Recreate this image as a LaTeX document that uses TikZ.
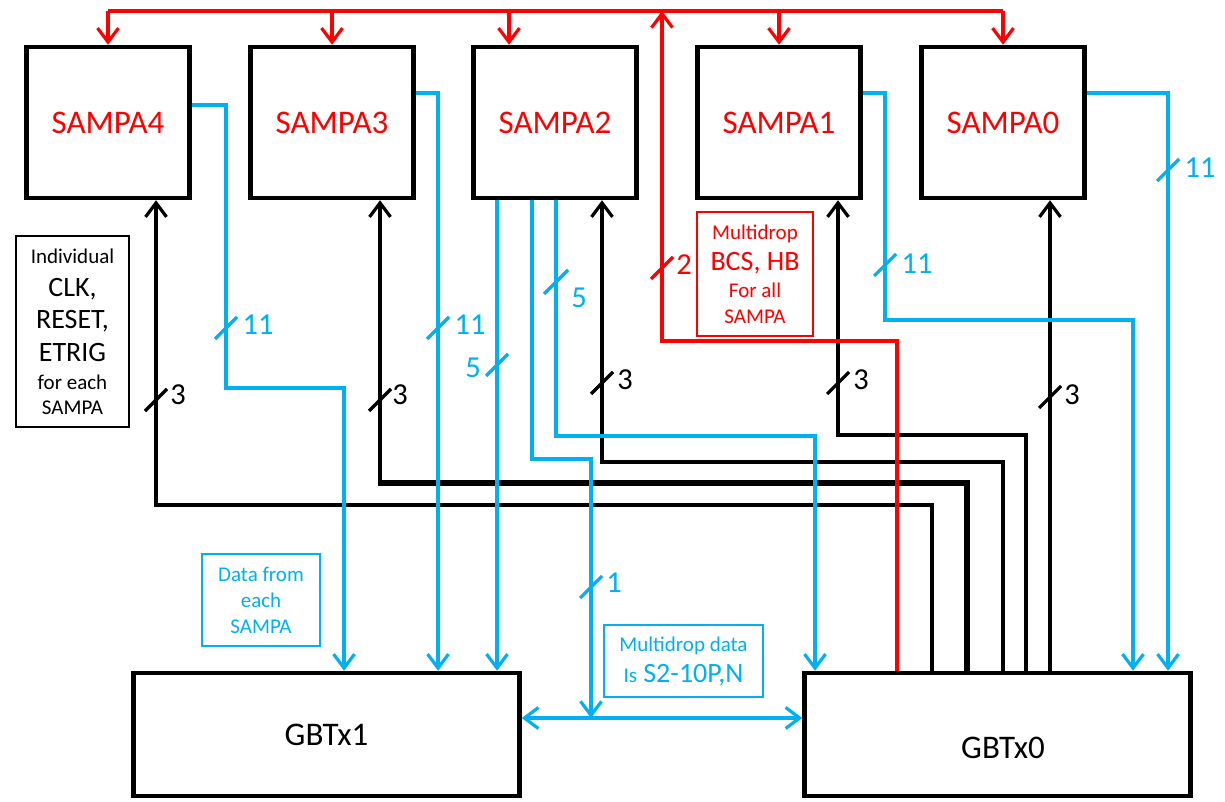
\documentclass[tikz,border=0pt]{standalone}
\usepackage{fontspec}
\setmainfont{Carlito}
\usetikzlibrary{arrows.meta}
\definecolor{sblue}{HTML}{00B0F0}
\definecolor{sred}{HTML}{FF0000}
\begin{document}
\begin{tikzpicture}[x=1pt,y=-1pt,
  sampa/.style={draw, line width=4.5pt, minimum width=163pt, minimum height=151pt, inner sep=0pt, text=sred, font=\fontsize{33}{36}\selectfont},
  gbt/.style={draw, line width=4.5pt, minimum width=386pt, minimum height=123pt, inner sep=0pt, font=\fontsize{33}{36}\selectfont},
  note/.style={draw, line width=1.3pt, inner sep=0pt, align=center},
  bl/.style={sblue, line width=3.2pt},
  kl/.style={black, line width=3.2pt},
  rl/.style={sred, line width=3.2pt},
  arr/.style={-{Straight Barb[length=14pt,width=21pt]}},
  dblarr/.style={{Straight Barb[length=14pt,width=21pt]}-{Straight Barb[length=14pt,width=21pt]}},
  dig/.style={font=\fontsize{30.5}{32}\selectfont, inner sep=0pt},
]
\useasboundingbox (0,0) rectangle (1225,802);

% boxes
\node[sampa] (s4) at (108,122.5) {SAMPA4};
\node[sampa] (s3) at (332,122.5) {SAMPA3};
\node[sampa] (s2) at (555,122.5) {SAMPA2};
\node[sampa] (s1) at (779,122.5) {SAMPA1};
\node[sampa] (s0) at (1003,122.5) {SAMPA0};
\node[gbt] (g1) at (326.5,734.5) {GBTx1};
\node[gbt, label={[font=\fontsize{33}{36}\selectfont, xshift=5.5pt, yshift=-13pt]center:GBTx0}] (g0) at (997.5,734.5) {};

% notes
\node[note, minimum width=113pt, minimum height=191pt, font=\fontsize{28}{33}\selectfont] (leg) at (72.5,331.5)
  {{\fontsize{21}{24}\selectfont Individual}\\CLK,\\[-1pt]RESET,\\ETRIG\\[-5pt]{\fontsize{21}{24}\selectfont for each}\\[-8pt]{\fontsize{21}{24}\selectfont SAMPA}};
\node[note, draw=sred, text=sred, minimum width=116pt, minimum height=124pt, font=\fontsize{28}{28}\selectfont] (rnote) at (755,274)
  {{\fontsize{21}{24}\selectfont Multidrop}\\[3pt]BCS, HB\\[-1pt]{\fontsize{21}{24}\selectfont For all}\\[-2pt]{\fontsize{21}{24}\selectfont SAMPA}};
\node[note, draw=sblue, text=sblue, minimum width=118pt, minimum height=92pt, font=\fontsize{21}{26}\selectfont] (dnote) at (261,600)
  {Data from\\each\\SAMPA};
\node[note, draw=sblue, text=sblue, minimum width=159pt, minimum height=72pt, font=\fontsize{28}{31}\selectfont] (mnote) at (683.5,661)
  {{\fontsize{21}{24}\selectfont Multidrop data}\\{\fontsize{21}{24}\selectfont Is} S2-10P,N};

% coordinates
\coordinate (k4a) at (156,505); \coordinate (k4b) at (932,505);
\coordinate (k3a) at (380,483); \coordinate (k3b) at (967,483);
\coordinate (k2a) at (602,462); \coordinate (k2b) at (1003,462);
\coordinate (k1a) at (838,435); \coordinate (k1b) at (1026,435);
\coordinate (k0a) at (1050,300);

\coordinate (b4a) at (226,105); \coordinate (b4b) at (226,388); \coordinate (b4c) at (344,388);
\coordinate (b3a) at (438,93);
\coordinate (b2a) at (497,300);
\coordinate (b2b) at (532,459); \coordinate (b2c) at (591,459); \coordinate (b2d) at (591,718);
\coordinate (b2e) at (556,436); \coordinate (b2f) at (815,436);
\coordinate (b1a) at (885,93); \coordinate (b1b) at (885,320); \coordinate (b1c) at (1133,320);
\coordinate (b0a) at (1168,93);

\coordinate (rtl) at (108,11); \coordinate (rtr) at (1003,11);
\coordinate (rt3) at (332,11); \coordinate (rt2) at (509,11); \coordinate (rt1) at (779,11);
\coordinate (rin) at (662,11); \coordinate (rb1) at (662,341); \coordinate (rb2) at (897,341);

% black control lines
\draw[kl,arr] (k4b |- g0.north) -- (k4b) -- (k4a) -- (k4a |- s4.south);
\draw[kl,arr] (k3a) -- (k3a |- s3.south);
\draw[black, line width=5.5pt] (k3b |- g0.north) -- (k3b) -- ([xshift=-1.6pt]k3a);
\draw[kl,arr] (k2b |- g0.north) -- (k2b) -- (k2a) -- (k2a |- s2.south);
\draw[kl,arr] (k1b |- g0.north) -- (k1b) -- (k1a) -- (k1a |- s1.south);
\draw[kl,arr] (k0a |- g0.north) -- (k0a |- s0.south);

% blue data lines
\draw[bl,arr] (b4a -| s4.east) -- (b4a) -- (b4b) -- (b4c) -- (b4c |- g1.north);
\draw[bl,arr] (b3a -| s3.east) -- (b3a) -- (b3a |- g1.north);
\draw[bl,arr] (b2a |- s2.south) -- (b2a |- g1.north);
\draw[bl,arr] (b2b |- s2.south) -- (b2b) -- (b2c) -- (b2d);
\draw[bl,arr] (b2e |- s2.south) -- (b2e) -- (b2f) -- (b2f |- g0.north);
\draw[bl,arr] (b1a -| s1.east) -- (b1a) -- (b1b) -- (b1c) -- (b1c |- g0.north);
\draw[bl,arr] (b0a -| s0.east) -- (b0a) -- (b0a |- g0.north);
\draw[bl,dblarr] (g1.east |- b2d) -- (g0.west |- b2d);

% red lines
\draw[rl] (rtl) -- (rtr);
\draw[rl,arr] (rtl) -- (s4.north);
\draw[rl,arr] (rt3) -- (s3.north);
\draw[rl,arr] (rt2) -- (rt2 |- s2.north);
\draw[rl,arr] (rt1) -- (s1.north);
\draw[rl,arr] (rtr) -- (s0.north);
\draw[rl,arr] (rb2 |- g0.north) -- (rb2) -- (rb1) -- (rin);

% bus slashes and widths
\draw[bl] (226,328) +(-11,11) -- +(11,-11); \node[dig, text=sblue] (n1) at (258,325) {11};
\draw[bl] (438,328) +(-11,11) -- +(11,-11); \node[dig, text=sblue] (n2) at (470,325) {11};
\draw[kl] (156,400) +(-11,11) -- +(11,-11); \node[dig] (n3) at (178,395) {3};
\draw[kl] (380,400) +(-11,11) -- +(11,-11); \node[dig] (n4) at (400,395) {3};
\draw[bl] (556,282) +(-12,12) -- +(12,-12); \node[dig, text=sblue] (n5) at (579,298) {5};
\draw[bl] (497,365) +(-11,11) -- +(11,-11); \node[dig, text=sblue] (n6) at (473,368) {5};
\draw[kl] (602,383) +(-11,11) -- +(11,-11); \node[dig] (n7) at (625,380) {3};
\draw[rl] (662,268) +(-11,11) -- +(11,-11); \node[dig, text=sred] (n8) at (684,265) {2};
\draw[bl] (885,265) +(-11,11) -- +(11,-11); \node[dig, text=sblue] (n9) at (917,264) {11};
\draw[kl] (838,383) +(-11,11) -- +(11,-11); \node[dig] (n10) at (861,380) {3};
\draw[kl] (1050,397) +(-11,11) -- +(11,-11); \node[dig] (n11) at (1072,395) {3};
\draw[bl] (1168,170) +(-11,11) -- +(11,-11); \node[dig, text=sblue] (n12) at (1200,168) {11};
\draw[bl] (591,587) +(-11,11) -- +(11,-11); \node[dig, text=sblue] (n13) at (614,583) {1};
\end{tikzpicture}
\end{document}
